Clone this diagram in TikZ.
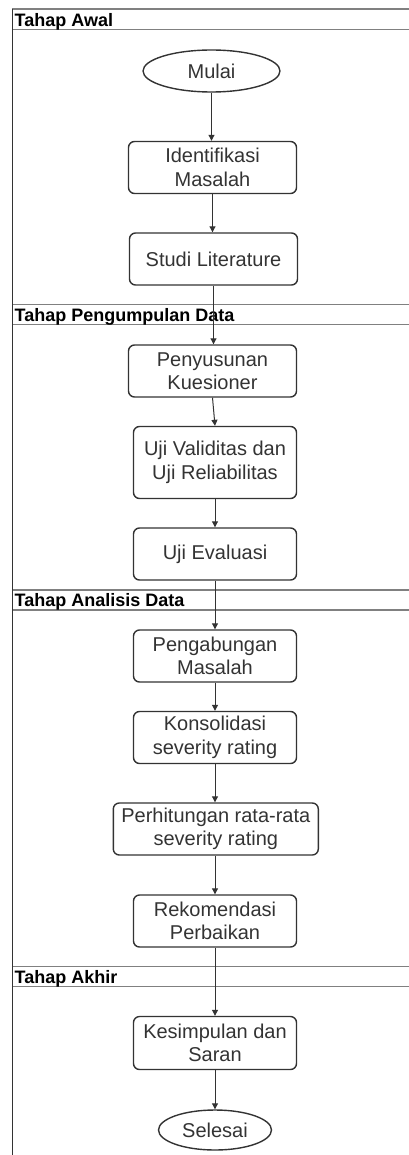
\documentclass[tikz,border=0pt]{standalone}
\usepackage{fontspec}
\setmainfont{Liberation Sans}
\usetikzlibrary{arrows.meta,shapes.geometric}
\definecolor{edge}{HTML}{333333}
\definecolor{lane}{HTML}{808080}
\definecolor{txt}{HTML}{333333}
\tikzset{
  proc/.style={draw=edge, line width=1.4pt, rounded corners=6pt, align=center,
    font=\fontsize{20}{23.5}\selectfont, text=txt, inner sep=0pt},
  term/.style={draw=edge, line width=1.4pt, ellipse, inner sep=0pt,
    font=\fontsize{20}{23.5}\selectfont, text=txt},
  flow/.style={draw=edge, line width=1pt, -{Triangle[length=6pt,width=6pt]}},
  laneline/.style={draw=lane, line width=1.3pt},
  border/.style={draw=black!80, line width=1.3pt},
  lanetitle/.style={anchor=base west, inner sep=0pt, font=\fontsize{18}{20}\selectfont\bfseries}
}
\begin{document}
\begin{tikzpicture}[x=1pt,y=-1pt]
\useasboundingbox (0,0) rectangle (409,1155);
\begin{scope}
\clip (0,0) rectangle (409,1155);
% lane headers
\foreach \t/\b in {9/29.5, 304.3/324.3, 590/610, 966.7/986.7}{
  \draw[laneline] (12.3,\t) -- (420,\t);
  \draw[laneline] (12.3,\b) -- (420,\b);
}
\draw[border] (12.3,9) -- (12.3,1160);
\end{scope}
\node[lanetitle] (h1) at (14.5,26.3) {Tahap Awal};
\node[lanetitle] (h2) at (14.5,321.3) {Tahap Pengumpulan Data};
\node[lanetitle] (h3) at (14.5,606.8) {Tahap Analisis Data};
\node[lanetitle] (h4) at (14.5,983.6) {Tahap Akhir};

\node[term, minimum width=137pt, minimum height=42pt] (mulai) at (211.5,71) {Mulai};
\node[proc, minimum width=168pt, minimum height=52pt] (ident) at (212.5,167.5) {Identifikasi\\Masalah};
\node[proc, minimum width=168pt, minimum height=52pt] (studi) at (213.5,259) {Studi Literature};
\node[proc, minimum width=168pt, minimum height=52pt] (penyu) at (212.5,371) {Penyusunan\\Kuesioner};
\node[proc, minimum width=163pt, minimum height=72pt] (valid) at (215,462.5) {Uji Validitas dan\\Uji Reliabilitas};
\node[proc, minimum width=163pt, minimum height=52pt] (eval) at (215,554) {Uji Evaluasi};
\node[proc, minimum width=163pt, minimum height=52pt] (gabung) at (215,656) {Pengabungan\\Masalah};
\node[proc, minimum width=163pt, minimum height=52pt] (konsol) at (215,737.5) {Konsolidasi\\severity rating};
\node[proc, minimum width=205pt, minimum height=52pt] (hitung) at (215.8,829) {Perhitungan rata-rata\\severity rating};
\node[proc, minimum width=163pt, minimum height=52pt] (rekom) at (215,921) {Rekomendasi\\Perbaikan};
\node[proc, minimum width=163pt, minimum height=53pt] (simpul) at (215,1043) {Kesimpulan dan\\Saran};
\node[term, minimum width=113pt, minimum height=40pt] (selesai) at (215,1130) {Selesai};

\draw[flow] (mulai.south) -- (mulai.south |- ident.north);
\draw[flow] (ident.south) -- (ident.south |- studi.north);
\draw[flow] (studi.south) -- (studi.south |- penyu.north);
\draw[flow] (penyu.south) -- (valid.north);
\draw[flow] (valid.south) -- (valid.south |- eval.north);
\draw[flow] (eval.south) -- (eval.south |- gabung.north);
\draw[flow] (gabung.south) -- (gabung.south |- konsol.north);
\draw[flow] (konsol.south) -- (konsol.south |- hitung.north);
\draw[flow] (konsol.south |- hitung.south) -- (konsol.south |- rekom.north);
\draw[flow] (rekom.south) -- (rekom.south |- simpul.north);
\draw[flow] (simpul.south) -- (simpul.south |- selesai.north);
\end{tikzpicture}
\end{document}
